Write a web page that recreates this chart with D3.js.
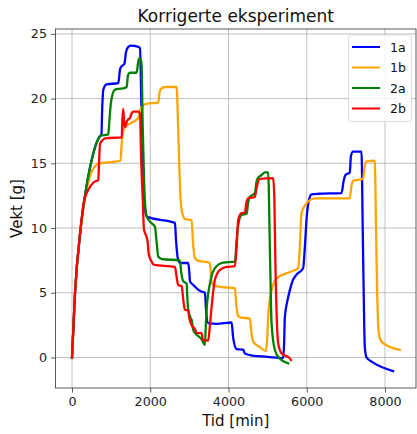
<!DOCTYPE html>
<html>
<head>
<meta charset="utf-8">
<script src="https://cdn.jsdelivr.net/npm/d3@7"></script>
<style>
  html, body { margin: 0; padding: 0; background: #fff; }
  svg { display: block; font-family: "DejaVu Sans", sans-serif; }
</style>
</head>
<body>
<svg id="chart" width="417" height="434"></svg>
<script>
// Weight measurements over time, four runs: [time in minutes, weight in grams]
const series1a = [
  [0,0],[77,5],[222,10],[332,12.5],[416,14.0],[530,15.6],[630,16.6],[715,17.1],[750,17.2],
  [775,19.5],[800,20.7],[886,21.1],[1183,21.2],[1230,22.3],[1269,22.5],[1340,22.7],[1380,23.6],
  [1438,24.0],[1500,24.1],[1694,24.0],[1737,23.9],[1770,20],[1810,15],[1850,12],[1908,10.9],
  [1992,10.8],[2631,10.4],[2660,9.0],[2715,7.5],[2760,7.3],[2970,7.3],[3000,6.5],[3014,5.9],
  [3100,5.6],[3300,5.1],[3397,5.0],[3430,3.5],[3480,2.65],[3700,2.6],[4079,2.7],[4120,1.5],
  [4206,0.65],[4375,0.6],[4420,0.3],[4600,0.15],[5000,0.05],[5397,-0.05],[5420,1.0],[5440,3.1],
  [5500,4.3],[5568,5.2],[5650,6.0],[5739,6.4],[5907,6.9],[5951,8.5],[6000,10.9],[6060,12.2],
  [6122,12.6],[6300,12.65],[6888,12.7],[6940,13.6],[6990,14.1],[7100,14.3],[7130,15.6],
  [7184,15.9],[7399,15.9],[7430,10],[7460,4],[7483,0.84],[7527,0.0],[7700,-0.4],[8206,-1.05]
];
const series1b = [
  [0,0],[77,5],[222,10],[332,12.3],[460,14.0],[631,14.9],[715,15.0],[1000,15.1],[1240,15.2],
  [1269,16.5],[1310,17.5],[1354,17.8],[1500,18.1],[1693,18.5],[1750,19.2],[1822,19.5],
  [1900,19.6],[2204,19.7],[2240,20.5],[2291,20.8],[2400,20.9],[2674,20.9],[2710,18],[2740,15],
  [2770,12.5],[2802,11.4],[2886,10.7],[3057,10.6],[3090,9.0],[3141,7.7],[3200,7.5],[3525,7.3],
  [3560,6.0],[3609,5.6],[3800,5.45],[4163,5.35],[4200,4.0],[4247,3.2],[4300,3.1],[4546,3.0],
  [4590,1.8],[4630,1.22],[4800,0.8],[4955,0.5],[4990,1.5],[5013,3.15],[5100,5.2],[5228,6.1],
  [5568,6.6],[5780,6.9],[5822,8.5],[5866,11.15],[6035,12.05],[6200,12.3],[7100,12.3],
  [7140,13.2],[7184,13.65],[7440,13.8],[7480,14.8],[7527,15.15],[7739,15.2],[7770,10],
  [7800,5],[7830,2.3],[7866,1.5],[7951,1.1],[8377,0.58]
];
const series2a = [
  [0,0],[77,5],[222,10],[332,12.5],[416,14.0],[530,15.6],[630,16.6],[715,17.1],[927,17.25],
  [960,18.5],[1000,19.8],[1098,20.7],[1300,20.8],[1397,20.9],[1430,21.8],[1481,22.0],
  [1652,22.0],[1690,22.8],[1719,23.1],[1760,23.0],[1780,22.5],[1806,18],[1839,14],[1864,12],
  [1908,10.9],[1992,10.5],[2120,10.1],[2160,9.0],[2204,7.8],[2300,7.6],[2758,7.5],[2790,6.6],
  [2843,5.9],[2929,5.7],[2950,4.5],[2970,3.7],[3040,3.0],[3057,2.9],[3100,2.1],[3141,1.9],
  [3312,1.4],[3397,0.97],[3420,2.5],[3440,3.7],[3525,5.7],[3652,6.9],[3864,7.33],[4163,7.4],
  [4206,9.0],[4247,10.2],[4333,11.0],[4462,11.1],[4503,12.0],[4546,12.4],[4674,12.7],
  [4717,13.6],[4760,13.9],[4845,14.1],[4929,14.3],[5013,14.3],[5057,8.5],[5100,2.65],
  [5185,0.58],[5312,-0.1],[5524,-0.45]
];
const series2b = [
  [0,0],[77,5],[222,10],[300,12.0],[416,12.95],[544,13.5],[631,13.65],[672,13.7],[690,15.0],
  [715,16.5],[800,16.85],[886,16.95],[1269,17.0],[1290,18.5],[1310,19.2],[1330,18.2],
  [1354,17.8],[1397,18.2],[1438,18.4],[1481,18.5],[1530,18.9],[1566,19.0],[1694,19.0],
  [1737,18.8],[1770,15],[1806,12.4],[1839,9.9],[1908,9.3],[1930,9.0],[1960,8.0],[2035,7.4],
  [2100,7.15],[2631,7.0],[2670,6.3],[2715,5.6],[2802,5.5],[2850,4.3],[2886,3.7],[2970,3.6],
  [3000,3.0],[3057,2.5],[3140,2.2],[3185,1.9],[3312,1.87],[3346,1.35],[3481,1.3],[3525,2.5],
  [3568,3.9],[3652,6.0],[3780,6.77],[3951,7.0],[4163,7.05],[4206,8.5],[4247,10.6],
  [4333,11.15],[4418,11.2],[4460,12.0],[4503,12.3],[4674,12.4],[4717,13.1],[4802,13.8],
  [5141,13.85],[5170,12.5],[5200,7],[5240,2.5],[5269,1.1],[5356,0.32],[5568,-0.07],[5593,-0.2]
];

const seriesNames = ["1a", "1b", "2a", "2b"];
const seriesData = [series1a, series1b, series2a, series2b];
const seriesColors = ["#0000ff", "#ffa500", "#008000", "#ff0000"];
const xTicks = [0, 2000, 4000, 6000, 8000];
const yTicks = [0, 5, 10, 15, 20, 25];

const svg = d3.select("#chart");
const plot = { left: 55.5, right: 416, top: 29, bottom: 388 };

const x = d3.scaleLinear().domain([-422, 8792]).range([plot.left, plot.right]);
const y = d3.scaleLinear().domain([-2.36, 25.38]).range([plot.bottom, plot.top]);

// grid lines
const grid = svg.append("g");
grid.selectAll(".gx").data(xTicks).join("line")
  .attr("x1", d => x(d)).attr("x2", d => x(d))
  .attr("y1", plot.top).attr("y2", plot.bottom)
  .attr("stroke", "#b0b0b0").attr("stroke-width", 0.8);
grid.selectAll(".gy").data(yTicks).join("line")
  .attr("x1", plot.left).attr("x2", plot.right)
  .attr("y1", d => y(d)).attr("y2", d => y(d))
  .attr("stroke", "#b0b0b0").attr("stroke-width", 0.8);

// data lines, clipped to the axes area
svg.append("clipPath").attr("id", "clip").append("rect")
  .attr("x", plot.left).attr("y", plot.top)
  .attr("width", plot.right - plot.left).attr("height", plot.bottom - plot.top);

const line = d3.line().x(d => x(d[0])).y(d => y(d[1])).curve(d3.curveMonotoneX);
const lines = svg.append("g").attr("clip-path", "url(#clip)");
seriesData.forEach((s, i) => {
  lines.append("path").datum(s)
    .attr("d", line)
    .attr("fill", "none")
    .attr("stroke", seriesColors[i])
    .attr("stroke-width", 2.3)
    .attr("stroke-linejoin", "round")
    .attr("stroke-linecap", "square");
});

// axes
const xAxis = svg.append("g").attr("transform", `translate(0,${plot.bottom})`)
  .call(d3.axisBottom(x).tickValues(xTicks).tickSize(4.5).tickPadding(4).tickFormat(d3.format("d")));
const yAxis = svg.append("g").attr("transform", `translate(${plot.left},0)`)
  .call(d3.axisLeft(y).tickValues(yTicks).tickSize(4.5).tickPadding(4).tickFormat(d3.format("d")));
[xAxis, yAxis].forEach(a => {
  a.select(".domain").remove();
  a.selectAll(".tick line").attr("stroke", "#333").attr("stroke-width", 0.8);
  a.selectAll(".tick text").attr("fill", "#222").attr("font-size", 12.7)
    .attr("font-family", "DejaVu Sans, sans-serif");
});

// frame
svg.append("rect")
  .attr("x", plot.left).attr("y", plot.top)
  .attr("width", plot.right - plot.left).attr("height", plot.bottom - plot.top)
  .attr("fill", "none").attr("stroke", "#333").attr("stroke-width", 0.8);

// title and axis labels
svg.append("text").attr("x", (plot.left + plot.right) / 2).attr("y", 22)
  .attr("text-anchor", "middle").attr("font-size", 17).attr("fill", "#111")
  .text("Korrigerte eksperiment");
svg.append("text").attr("x", (plot.left + plot.right) / 2).attr("y", 426)
  .attr("text-anchor", "middle").attr("font-size", 15).attr("fill", "#111")
  .text("Tid [min]");
svg.append("text")
  .attr("transform", `translate(22,${(plot.top + plot.bottom) / 2}) rotate(-90)`)
  .attr("text-anchor", "middle").attr("font-size", 15).attr("fill", "#111")
  .text("Vekt [g]");

// legend
const legend = svg.append("g");
legend.append("rect")
  .attr("x", 348.5).attr("y", 35).attr("width", 63).attr("height", 86.5)
  .attr("rx", 3).attr("fill", "#fff").attr("fill-opacity", 0.8)
  .attr("stroke", "#d0d0d0").attr("stroke-width", 0.8);
seriesNames.forEach((name, i) => {
  const ly = 47 + i * 20.5;
  legend.append("line")
    .attr("x1", 352).attr("x2", 380).attr("y1", ly).attr("y2", ly)
    .attr("stroke", seriesColors[i]).attr("stroke-width", 2);
  legend.append("text").attr("x", 390).attr("y", ly + 4.5)
    .attr("font-size", 12.5).attr("fill", "#111").text(name);
});
</script>
</body>
</html>
